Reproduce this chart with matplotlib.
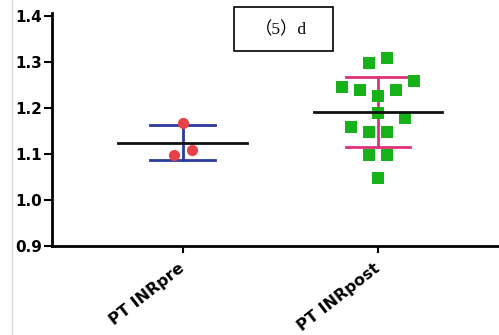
import numpy as np
import matplotlib
matplotlib.use("Agg")
import matplotlib.pyplot as plt
from matplotlib.patches import Rectangle
from matplotlib.lines import Line2D

categories = ["PT INRpre", "PT INRpost"]
pre_values = [1.167, 1.098, 1.109]
post_values = [1.309, 1.298, 1.259, 1.239, 1.226, 1.239, 1.246, 1.189,
               1.178, 1.159, 1.148, 1.148, 1.098, 1.098, 1.048]
means = [1.124, 1.191]
upper = [1.162, 1.267]
lower = [1.087, 1.115]
title_text = "（5）d"

fig = plt.figure(figsize=(4.99, 3.35), dpi=100)
ax = fig.add_axes([0.104, 0.266, 0.896, 0.687])
ax.set_xlim(-0.67, 1.62)
ax.set_ylim(0.9, 1.4)

# swarm layout (rows of similar values spread symmetrically)
ax_w_px = 0.896 * 499
px_per_x = ax_w_px / (1.62 + 0.67)
slot_px = 18.0
row_tol = 0.035

def swarm(vals, center):
    order = sorted(range(len(vals)), key=lambda i: vals[i])
    rows = []
    for i in order:
        if rows and vals[i] - vals[rows[-1][0]] <= row_tol:
            rows[-1].append(i)
        else:
            rows.append([i])
    xs = [0.0] * len(vals)
    for row in rows:
        n = len(row)
        slots = [(j - (n - 1) / 2) * slot_px for j in range(n)]
        seq = sorted(slots, key=lambda s: (abs(s), s))
        for idx, off in zip(row, seq):
            xs[idx] = center + off / px_per_x
    return xs

pre_x = swarm(pre_values, 0)
post_x = swarm(post_values, 1)

mean_half = 0.33
cap_half = 0.165
err_colors = ["#2b3a9c", "#e0307a"]
for i, (m, u, l) in enumerate(zip(means, upper, lower)):
    ax.plot([i, i], [l, u], color=err_colors[i], lw=2, zorder=2)
    ax.plot([i - cap_half, i + cap_half], [u, u], color=err_colors[i], lw=2, zorder=2)
    ax.plot([i - cap_half, i + cap_half], [l, l], color=err_colors[i], lw=2, zorder=2)

ax.scatter(pre_x, pre_values, s=65, marker="o", color="#e8414a", zorder=3, linewidths=0)
ax.scatter(post_x, post_values, s=65, marker="s", color="#17b21a", zorder=3, linewidths=0)

for i, m in enumerate(means):
    ax.plot([i - mean_half, i + mean_half], [m, m], color="#111111", lw=2, zorder=4)

ax.set_xticks([0, 1])
ax.set_xticklabels(categories, rotation=38, ha="right", va="center", rotation_mode="anchor",
                   fontfamily="DejaVu Sans", fontweight="bold", fontsize=11.5)
ax.set_yticks([0.9, 1.0, 1.1, 1.2, 1.3, 1.4])
ax.set_yticklabels(["0.9", "1.0", "1.1", "1.2", "1.3", "1.4"],
                   fontfamily="DejaVu Sans", fontweight="bold", fontsize=11)
for s in ["top", "right"]:
    ax.spines[s].set_visible(False)
for s in ["left", "bottom"]:
    ax.spines[s].set_linewidth(2)
ax.tick_params(axis="y", direction="out", width=1.5, length=6, pad=1)
ax.tick_params(axis="x", direction="out", width=1.5, length=5, pad=10)
ax.spines["left"].set_bounds(0.9, 1.405)

# title box
fig.patches.append(Rectangle((234 / 499, 1 - 51 / 335), 99 / 499, 44 / 335,
                             transform=fig.transFigure, fill=False, ec="black", lw=1.2))
fig.text(281 / 499, 1 - 30 / 335, title_text, ha="center", va="center",
         fontfamily=["Liberation Serif", "Noto Sans CJK SC"], fontsize=12.5)

# faint screenshot border line
fig.add_artist(Line2D([12 / 499, 12 / 499], [0, 1], transform=fig.transFigure,
                      color="#d8d8d8", lw=1))

fig.savefig("out.png", dpi=100)
